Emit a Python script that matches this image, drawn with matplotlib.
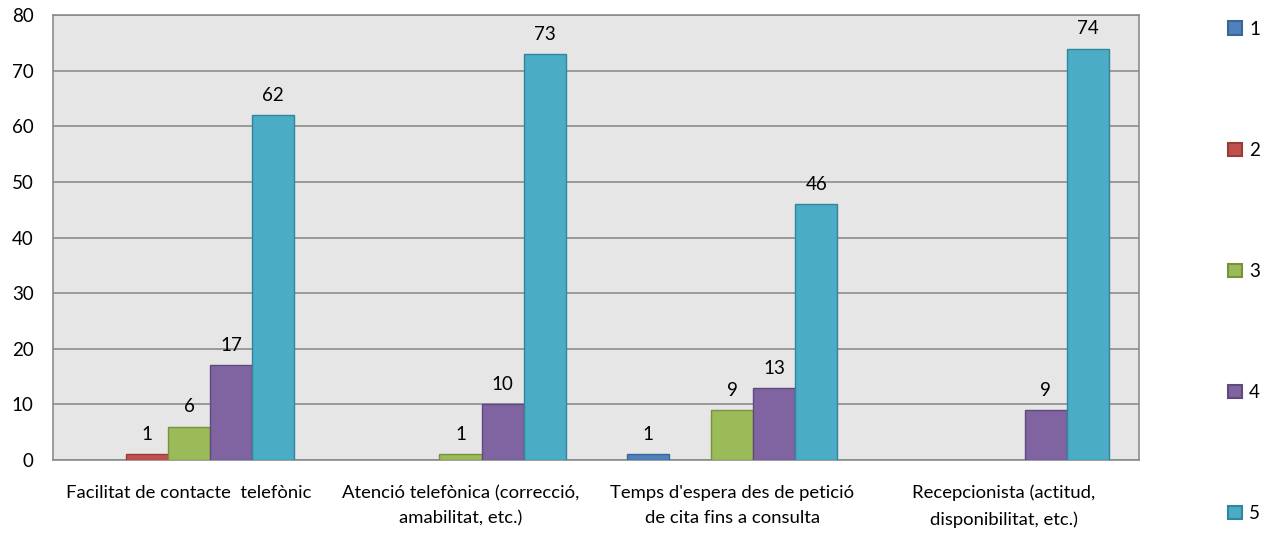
import matplotlib.pyplot as plt
from matplotlib.patches import Patch
import numpy as np

plt.rcParams['font.family'] = ['Lato', 'DejaVu Sans']

categories = ["Facilitat de contacte  telefònic",
              "Atenció telefònica (correcció,\namabilitat, etc.)",
              "Temps d'espera des de petició\nde cita fins a consulta",
              "Recepcionista (actitud,\ndisponibilitat, etc.)"]
series_names = ["1", "2", "3", "4", "5"]
s1 = [0, 0, 1, 0]
s2 = [1, 0, 0, 0]
s3 = [6, 1, 9, 0]
s4 = [17, 10, 13, 9]
s5 = [62, 73, 46, 74]
series = [s1, s2, s3, s4, s5]

colors = ['#4F81BD', '#C0504D', '#9BBB59', '#8064A2', '#4BACC6']
edges = ['#3A6595', '#963C39', '#77913F', '#5F4A7C', '#31859C']

fig = plt.figure(figsize=(12.66, 5.43), dpi=100)
ax = fig.add_axes([0.042, 0.153, 0.858, 0.819])
ax.set_facecolor('#E6E6E6')

x = np.arange(len(categories))
w = 0.155
for i, vals in enumerate(series):
    pos = x + (i - 2) * w
    bars = ax.bar(pos, vals, w, color=colors[i], edgecolor=edges[i],
                  linewidth=1, zorder=3)
    for b, v in zip(bars, vals):
        if v > 0:
            ax.annotate(str(v), (b.get_x() + b.get_width() / 2, v),
                        xytext=(0, 8), textcoords='offset points',
                        ha='center', va='bottom', fontsize=13.5)
        else:
            b.set_visible(False)

ax.set_xlim(-0.5, len(categories) - 0.5)
ax.set_ylim(0, 80)
ax.set_yticks(range(0, 81, 10))
ax.yaxis.grid(True, color='#8C8C8C', linewidth=1.2, zorder=0)
ax.set_axisbelow(True)
ax.set_xticks(x)
ax.set_xticklabels(categories, fontsize=13.3, linespacing=1.7)
ax.tick_params(axis='x', length=0, pad=18)
ax.tick_params(axis='y', length=0, labelsize=13.5, pad=14)
for s in ax.spines.values():
    s.set_color('#8C8C8C')
    s.set_linewidth(1.2)

handles = [Patch(facecolor=c, edgecolor=e, linewidth=1.5, label=n)
           for c, e, n in zip(colors, edges, series_names)]
fig.legend(handles=handles, loc='center left', bbox_to_anchor=(0.957, 0.5),
           frameon=False, fontsize=13.5, labelspacing=5.55, handlelength=0.75,
           handleheight=0.75, handletextpad=0.35)

fig.savefig('out.png', dpi=100)
